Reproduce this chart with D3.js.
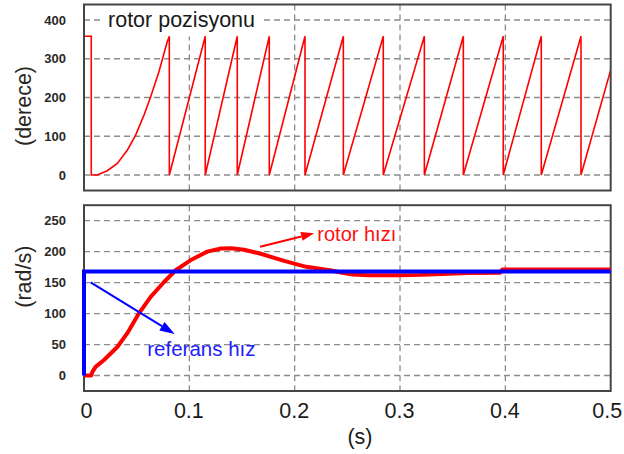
<!DOCTYPE html>
<html>
<head>
<meta charset="utf-8">
<script src="https://cdn.jsdelivr.net/npm/d3@7"></script>
<style>
  html, body { margin: 0; padding: 0; background: #fff; }
  svg { display: block; font-family: "Liberation Sans", Arial, sans-serif; }
</style>
</head>
<body>
<svg id="chart" width="624" height="454"></svg>
<script>
// ---------------- DATA ----------------
const timeTicks = [0, 0.1, 0.2, 0.3, 0.4, 0.5];
const timeTickLabels = ["0", "0.1", "0.2", "0.3", "0.4", "0.5"];
const positionTicks = [0, 100, 200, 300, 400];
const speedTicks = [0, 50, 100, 150, 200, 250];

// rotor position (degrees) vs time (s)
const positionTime = [0, 0.0069, 0.0069, 0.0126, 0.0221, 0.0316, 0.0411, 0.049, 0.057, 0.0633, 0.0712, 0.079, 0.081,
  0.081, 0.1151, 0.1151, 0.1455, 0.1455, 0.1759, 0.1759, 0.2098, 0.2098, 0.2462, 0.2462, 0.2841, 0.2841,
  0.3231, 0.3231, 0.3601, 0.3601, 0.398, 0.398, 0.4341, 0.4341, 0.4718, 0.4718, 0.5];
const positionDeg = [358, 358, 0, 0, 11, 30, 64, 103, 155, 202, 267, 344, 358,
  0, 358, 0, 358, 0, 358, 0, 358, 0, 358, 0, 358, 0,
  358, 0, 358, 0, 358, 0, 358, 0, 358, 0, 271];

// rotor speed (rad/s) vs time (s)
const speedTime = [0, 0.007, 0.008, 0.011, 0.019, 0.0316, 0.041, 0.052, 0.0633, 0.076, 0.087, 0.101, 0.117, 0.13, 0.14,
  0.152, 0.167, 0.19, 0.211, 0.2335, 0.245, 0.255, 0.27, 0.3, 0.32, 0.34, 0.365, 0.395, 0.397, 0.5];
const speedRotor = [0, 0, 6, 14, 25, 46, 68, 100, 127, 151, 170, 186, 200, 205, 205.5,
  203, 197, 185, 175.5, 170, 166, 163, 162, 162, 162.5, 164, 165.5, 166, 171, 171];

// reference speed (rad/s)
const refTime = [0, 0, 0.5];
const refSpeed = [0, 168, 168];

// ---------------- LAYOUT ----------------
const svg = d3.select("#chart");
svg.append("rect").attr("width", 624).attr("height", 454).attr("fill", "#fff");

const x = d3.scaleLinear().domain([0, 0.5]).range([84, 610.7]);
const yTop = d3.scaleLinear().domain([-40, 440]).range([190.5, 4.5]);
const yBot = d3.scaleLinear().domain([-25, 275]).range([391, 205.2]);

const gridColor = "#8c8c8c";
const frameColor = "#454545";

function panel(y, yTicks, id) {
  const g = svg.append("g");
  const [x0, x1] = x.range();
  const [yb, yt] = y.range();
  svg.append("clipPath").attr("id", id).append("rect")
    .attr("x", x0).attr("y", yt).attr("width", x1 - x0).attr("height", yb - yt);
  g.selectAll(".hg").data(yTicks).join("line")
    .attr("x1", x0).attr("x2", x1)
    .attr("y1", d => y(d)).attr("y2", d => y(d))
    .attr("stroke", gridColor).attr("stroke-width", 1.3).attr("stroke-dasharray", "6,4");
  g.selectAll(".vg").data(timeTicks.slice(1, -1)).join("line")
    .attr("x1", d => x(d)).attr("x2", d => x(d))
    .attr("y1", yt).attr("y2", yb)
    .attr("stroke", gridColor).attr("stroke-width", 1.3).attr("stroke-dasharray", "6,4");
  const ax = svg.append("g").attr("transform", `translate(${x0},0)`)
    .call(d3.axisLeft(y).tickValues(yTicks).tickSize(0).tickPadding(18));
  ax.select(".domain").remove();
  ax.selectAll("text").attr("font-size", 13).attr("font-weight", "bold").attr("fill", "#2a2a2a")
    .attr("font-family", "Liberation Sans, Arial, sans-serif");
  return g;
}

// ---------------- TOP PANEL ----------------
panel(yTop, positionTicks, "clipTop");

svg.append("rect").attr("x", 100).attr("y", yTop.range()[1] + 1).attr("width", 163).attr("height", 31).attr("fill", "#fff");
svg.append("text").attr("x", x(0.0228)).attr("y", yTop(382))
  .attr("font-size", 21.5).attr("fill", "#1a1a1a").text("rotor pozisyonu");

const posData = positionTime.map((t, i) => [t, positionDeg[i]]);
svg.append("path").datum(posData)
  .attr("clip-path", "url(#clipTop)")
  .attr("fill", "none").attr("stroke", "#ff0000").attr("stroke-width", 1.6)
  .attr("d", d3.line().x(d => x(d[0])).y(d => yTop(d[1])));

svg.append("rect")
  .attr("x", x.range()[0]).attr("y", yTop.range()[1])
  .attr("width", x.range()[1] - x.range()[0]).attr("height", yTop.range()[0] - yTop.range()[1])
  .attr("fill", "none").attr("stroke", frameColor).attr("stroke-width", 2);

// ---------------- BOTTOM PANEL ----------------
panel(yBot, speedTicks, "clipBot");

svg.append("rect")
  .attr("x", x.range()[0]).attr("y", yBot.range()[1])
  .attr("width", x.range()[1] - x.range()[0]).attr("height", yBot.range()[0] - yBot.range()[1])
  .attr("fill", "none").attr("stroke", frameColor).attr("stroke-width", 2);

const spData = speedTime.map((t, i) => [t, speedRotor[i]]);
svg.append("path").datum(spData)
  .attr("fill", "none").attr("stroke", "#ff0000").attr("stroke-width", 4)
  .attr("stroke-linejoin", "round")
  .attr("d", d3.line().x(d => x(d[0])).y(d => yBot(d[1])));

const refData = refTime.map((t, i) => [t, refSpeed[i]]);
svg.append("path").datum(refData)
  .attr("fill", "none").attr("stroke", "#0000ff").attr("stroke-width", 4)
  .attr("d", d3.line().x(d => x(d[0])).y(d => yBot(d[1])));

// arrows
function arrow(p0, p1, color, headLen, headW, width) {
  const [ax0, ay0] = p0, [ax1, ay1] = p1;
  const ang = Math.atan2(ay1 - ay0, ax1 - ax0);
  const bx = ax1 - headLen * Math.cos(ang), by = ay1 - headLen * Math.sin(ang);
  svg.append("line").attr("x1", ax0).attr("y1", ay0).attr("x2", bx).attr("y2", by)
    .attr("stroke", color).attr("stroke-width", width);
  const nx = -Math.sin(ang) * headW / 2, ny = Math.cos(ang) * headW / 2;
  svg.append("path")
    .attr("d", `M${ax1},${ay1}L${bx + nx},${by + ny}L${bx - nx},${by - ny}Z`)
    .attr("fill", color);
}
arrow([x(0.1671), yBot(208)], [x(0.2184), yBot(229.6)], "#ff0000", 13, 9, 2);
svg.append("text").attr("x", x(0.2215)).attr("y", yBot(216.4))
  .attr("font-size", 20).attr("fill", "#ff1010").text("rotor hızı");

arrow([x(0.0063), yBot(150.4)], [x(0.0861), yBot(67)], "#0000ff", 15, 10, 2);
svg.append("text").attr("x", x(0.0601)).attr("y", yBot(31.5))
  .attr("font-size", 20.5).attr("fill", "#2020ff").text("referans hız");

// x axis labels
const xa = svg.append("g").attr("transform", `translate(0,${yBot.range()[0]})`)
  .call(d3.axisBottom(x).tickValues(timeTicks).tickSize(0)
    .tickFormat((d, i) => timeTickLabels[i]));
xa.select(".domain").remove();
xa.selectAll("text").attr("font-size", 21.5).attr("fill", "#1a1a1a")
  .attr("font-family", "Liberation Sans, Arial, sans-serif")
  .attr("dy", 0).attr("y", 26.7)
  .attr("dx", (d, i) => i === 0 ? 2 : (i === timeTicks.length - 1 ? -4 : -1));

svg.append("text").attr("x", 360).attr("y", 443.5).attr("text-anchor", "middle")
  .attr("font-size", 21.5).attr("fill", "#1a1a1a").text("(s)");

// y titles
svg.append("text").attr("transform", `translate(31,${106}) rotate(-90)`)
  .attr("text-anchor", "middle").attr("font-size", 21.5).attr("fill", "#2a2520").text("(derece)");
svg.append("text").attr("transform", `translate(31,${276.7}) rotate(-90)`)
  .attr("text-anchor", "middle").attr("font-size", 21.5).attr("fill", "#2a2520").text("(rad/s)");
</script>
</body>
</html>
